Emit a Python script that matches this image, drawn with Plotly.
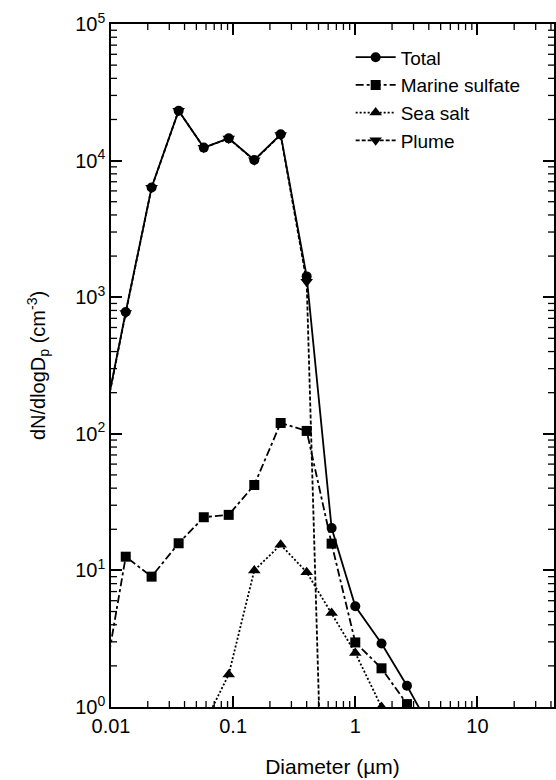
import plotly.graph_objects as go

# Particle diameter bins (µm)
diameter = [0.0082, 0.0132, 0.0215, 0.0358, 0.0575, 0.092, 0.149,
            0.245, 0.40, 0.64, 1.0, 1.64, 2.65, 4.3]

# dN/dlogDp (cm^-3) per population
total = [92, 780, 6350, 23200, 12450, 14550, 10100,
         15560, 1420, 20.4, 5.46, 2.92, 1.43, 0.65]
marine_sulfate = [1.06, 12.6, 9.0, 15.8, 24.5, 25.5, 42.2,
                  120, 105, 15.7, 2.97, 1.92, 1.05, None]
sea_salt = [None, None, None, None, 0.74, 1.73, 10.0,
            15.4, 9.7, 4.88, 2.49, 1.0, None, None]
plume = [91, 767, 6340, 23180, 12425, 14523, 10048,
         15425, 1300, 0.0007, None, None, None, None]

x_tick_vals = [0.01, 0.1, 1, 10]
x_tick_text = ["0.01", "0.1", "1", "10"]
y_tick_vals = [1, 10, 100, 1000, 10000, 100000]
y_tick_text = ["10<sup>0</sup>", "10<sup>1</sup>", "10<sup>2</sup>",
               "10<sup>3</sup>", "10<sup>4</sup>", "10<sup>5</sup>"]

# Intermediate (2..9 x 10^n) tick positions for the log axes
x_minor_vals = [m * 10.0 ** e for e in range(-2, 2) for m in range(2, 10)]
y_minor_vals = [m * 10.0 ** e for e in range(0, 5) for m in range(2, 10)]

X_RANGE = [-2, 1.627]
Y_RANGE = [0, 5]
MINOR_LEN = 6
FONT = "Arial, Liberation Sans, sans-serif"

series = [
    ("Total", total, "solid", "circle", 10),
    ("Marine sulfate", marine_sulfate, "8px,3px,3px,3px", "square", 10),
    ("Sea salt", sea_salt, "2px,2px", "triangle-up", 11),
    ("Plume", plume, "4px,2px", "triangle-down", 11),
]

fig = go.Figure()
for name, values, dash, symbol, size in series:
    fig.add_trace(go.Scatter(
        x=diameter, y=values, name=name, mode="lines+markers",
        line=dict(color="black", width=1.8, dash=dash),
        marker=dict(symbol=symbol, size=size, color="black"),
    ))

# Short inward ticks at the intermediate values, on all four frame sides
tick_line = dict(color="black", width=1.3)
x_max = 10 ** X_RANGE[1]
minor_shapes = []
for v in x_minor_vals:
    if v < x_max:
        for anchor, length in ((0, MINOR_LEN), (1, -MINOR_LEN)):
            minor_shapes.append(dict(
                type="line", xref="x", yref="paper", x0=v, x1=v,
                ysizemode="pixel", yanchor=anchor, y0=0, y1=length,
                line=tick_line, layer="above"))
for v in y_minor_vals:
    for anchor, length in ((0, MINOR_LEN), (1, -MINOR_LEN)):
        minor_shapes.append(dict(
            type="line", xref="paper", yref="y", y0=v, y1=v,
            xsizemode="pixel", xanchor=anchor, x0=0, x1=length,
            line=tick_line, layer="above"))

axis_common = dict(
    type="log", showline=True, linecolor="black", linewidth=1.5,
    mirror="ticks", ticks="inside", ticklen=11, tickwidth=1.5,
    tickcolor="black", showgrid=False, zeroline=False,
    tickfont=dict(family=FONT, size=20, color="black"),
)

fig.update_layout(
    width=556, height=780,
    margin=dict(l=111, r=0, t=24, b=73),
    paper_bgcolor="white", plot_bgcolor="white",
    font=dict(family=FONT, color="black"),
    xaxis=dict(
        range=X_RANGE, tickmode="array",
        tickvals=x_tick_vals, ticktext=x_tick_text,
        title=dict(text="Diameter (µm)", font=dict(family=FONT, size=21),
                   standoff=24),
        **axis_common,
    ),
    yaxis=dict(
        range=Y_RANGE, tickmode="array",
        tickvals=y_tick_vals, ticktext=y_tick_text,
        title=dict(text="dN/dlogD<sub>p</sub> (cm<sup>-3</sup>)",
                   font=dict(family=FONT, size=20), standoff=24),
        **axis_common,
    ),
    shapes=minor_shapes,
    legend=dict(
        x=0.541, y=0.979, xanchor="left", yanchor="top",
        bgcolor="rgba(0,0,0,0)", borderwidth=0,
        font=dict(family=FONT, size=19, color="black"),
        itemwidth=40, tracegroupgap=0,
    ),
    showlegend=True,
)

fig.write_html("out.html")
